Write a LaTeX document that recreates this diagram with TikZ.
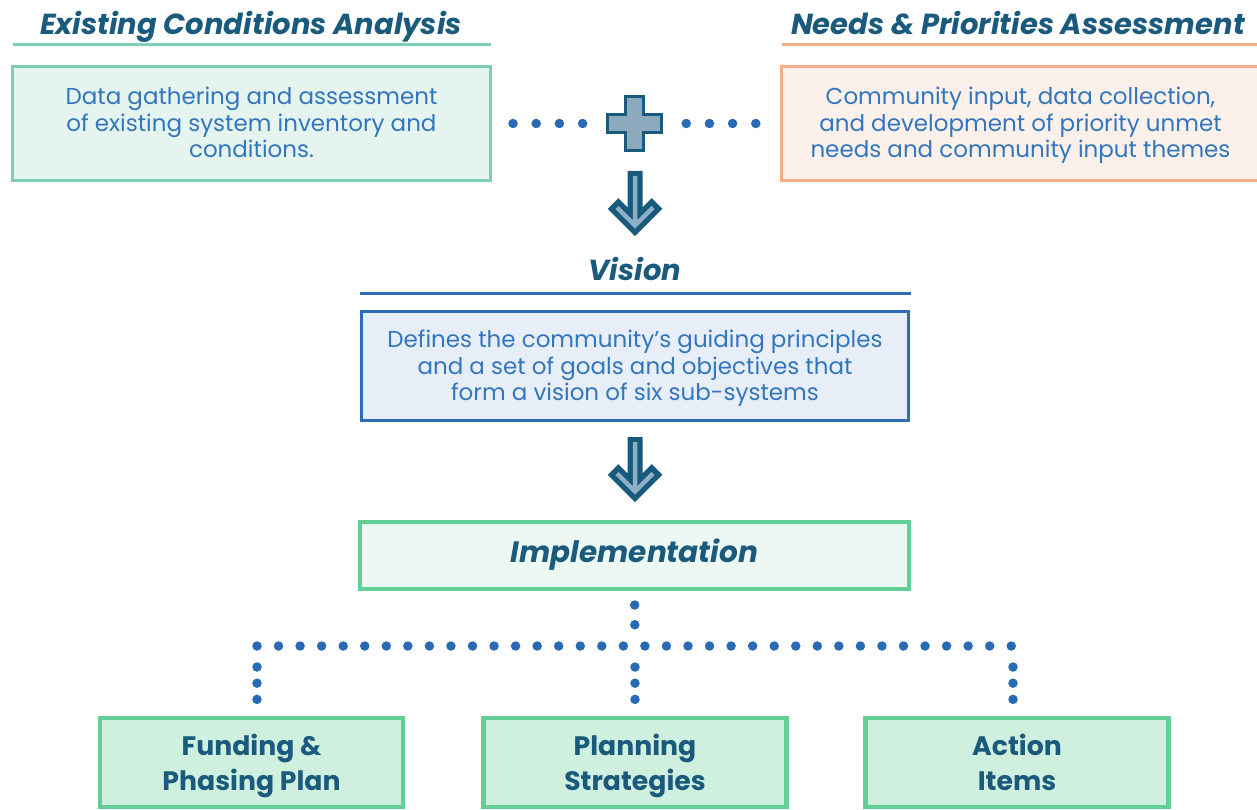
\documentclass[tikz,border=0pt]{standalone}
\usepackage{fontspec}
\setmainfont{Poppins}
\usetikzlibrary{positioning,calc}

\definecolor{hdrblue}{HTML}{1A5A7D}
\definecolor{txtblue}{HTML}{3276BE}
\definecolor{exedge}{HTML}{7CCFB4}
\definecolor{exfill}{HTML}{E6F4F0}
\definecolor{ndedge}{HTML}{F2AF88}
\definecolor{ndfill}{HTML}{FBF1EA}
\definecolor{visedge}{HTML}{2E6DB4}
\definecolor{visfill}{HTML}{E8EEF7}
\definecolor{impedge}{HTML}{62D096}
\definecolor{impfill}{HTML}{EEF8F3}
\definecolor{botfill}{HTML}{D0F0DF}
\definecolor{dotblue}{HTML}{2A69B3}
\definecolor{plusfill}{HTML}{8BAABD}
\definecolor{arrdark}{HTML}{175A7C}
\definecolor{arrlight}{HTML}{8FB0C4}

\tikzset{
  dnarrow/.pic={
    \draw[line width=15pt,draw=arrdark,miter limit=10] (0,0) -- (0,54.5) (-22,32.5) -- (0,54.5) -- (22,32.5);
    \draw[line width=4.5pt,draw=arrlight,miter limit=10] (0,5) -- (0,54.5) (-18,36.5) -- (0,54.5) -- (18,36.5);
  }
}

\begin{document}
\begin{tikzpicture}[x=1pt,y=-1pt,
  box/.style={rectangle,draw,line width=3pt,outer sep=0pt,inner sep=0pt,align=center,
    text height=69pt,text depth=0pt,text=txtblue,font=\fontsize{23}{26.5}\selectfont},
  head/.style={anchor=base,text=hdrblue,font=\fontsize{29}{32}\selectfont\bfseries\itshape},
  leaf/.style={box,draw=impedge,fill=botfill,line width=4.5pt,minimum width=303pt,minimum height=89pt,
    text height=55pt,text depth=0pt,text=hdrblue,font=\fontsize{26.7}{34.3}\selectfont\bfseries},
  rule/.style={line width=3pt},
  dotline/.style={draw=dotblue,line width=9.5pt,line cap=round}]

  \path[use as bounding box] (0,0) rectangle (1257,810);
  \clip (0,0) rectangle (1257,810);

  % top row
  \node (exbox) [box,draw=exedge,fill=exfill,minimum width=478pt,minimum height=114pt] at (251.5,123.5)
    {Data gathering and assessment\\of existing system inventory and\\conditions.};
  \node (ndbox) [box,draw=ndedge,fill=ndfill,minimum width=478pt,minimum height=114pt] at (1020.5,123.5)
    {Community input, data collection,\\and development of priority unmet\\needs and community input themes};
  \node (exhead) [head] at (251,35) {Existing Conditions Analysis};
  \node (ndhead) [head] at (1018,35) {Needs \& Priorities Assessment};
  \draw[rule,exedge] ([yshift=21.5pt]exbox.north west) -- ([yshift=21.5pt]exbox.north east);
  \draw[rule,ndedge] ([yshift=21.5pt]ndbox.north west) -- ([yshift=21.5pt]ndbox.north east);

  \node (plus) [minimum size=57pt,inner sep=0pt] at (634.5,123.5) {};
  \draw[line width=3pt,draw=hdrblue,fill=plusfill,shift={(plus.center)}]
    (-9,-27) -- (9,-27) -- (9,-9) -- (27,-9) -- (27,9) -- (9,9) -- (9,27) -- (-9,27)
    -- (-9,9) -- (-27,9) -- (-27,-9) -- (-9,-9) -- cycle;
  \draw[dotline,dash pattern=on 0pt off 23.2pt,shorten <=22.5pt,shorten >=23pt] (exbox.east) -- (plus.west);
  \draw[dotline,dash pattern=on 0pt off 23.2pt,shorten <=23pt,shorten >=25.5pt] (plus.east) -- (ndbox.west);

  % vision
  \path (635,171) pic {dnarrow};
  \node (vishead) [head] at (635,280.7) {Vision};
  \node (visbox) [box,draw=visedge,fill=visfill,minimum width=547pt,minimum height=109pt] at (635,366)
    {Defines the community’s guiding principles\\and a set of goals and objectives that\\form a vision of six sub-systems};
  \draw[rule,visedge] ([xshift=-2pt,yshift=18.5pt]visbox.north west) -- ([xshift=2pt,yshift=18.5pt]visbox.north east);

  % implementation
  \path (635,437) pic {dnarrow};
  \node (impl) [box,draw=impedge,fill=impfill,line width=4pt,minimum width=549pt,minimum height=67pt,
    text height=13pt,text=hdrblue,font=\fontsize{29.5}{32}\selectfont\bfseries\itshape] at (634.5,555.5) {Implementation};

  \node (fund) [leaf] at (251.5,762.5) {Funding \&\\Phasing Plan};
  \node (plan) [leaf] at (635,762.5) {Planning\\Strategies};
  \node (act)  [leaf] at (1017,762.5) {Action\\Items};

  \coordinate (hub) at (635,646);
  \coordinate (lft) at (257,646);
  \coordinate (rgt) at (1013,646);
  \draw[dotline,dash pattern=on 0pt off 19.8pt,shorten <=16pt,shorten >=21pt] (impl.south) -- (hub);
  \draw[dotline,dash pattern=on 0pt off 21.55pt] (lft) -- (rgt);
  \draw[dotline,dash pattern=on 0pt off 16.2pt,shorten <=21pt,shorten >=18.25pt] (lft) -- (lft |- fund.north);
  \draw[dotline,dash pattern=on 0pt off 16.2pt,shorten <=21pt,shorten >=18.25pt] (hub) -- (plan.north);
  \draw[dotline,dash pattern=on 0pt off 16.2pt,shorten <=21pt,shorten >=18.25pt] (rgt) -- (rgt |- act.north);

\end{tikzpicture}
\end{document}
